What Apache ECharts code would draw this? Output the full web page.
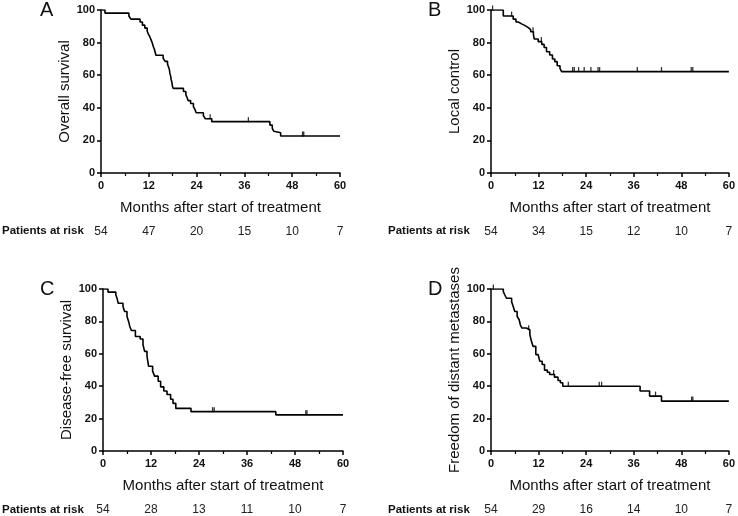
<!DOCTYPE html>
<html>
<head>
<meta charset="utf-8">
<script src="https://cdn.jsdelivr.net/npm/echarts@6/dist/echarts.min.js"></script>
<style>html,body{margin:0;padding:0;background:#fff}#c{width:738px;height:516px}</style>
</head>
<body>
<div id="c"></div>
<script>
const monthTicks = [0, 12, 24, 36, 48, 60];
const panelLetters = ['A', 'B', 'C', 'D'];
const yTitles = ['Overall survival', 'Local control', 'Disease-free survival', 'Freedom of distant metastases'];
const xTitle = 'Months after start of treatment';
const riskLabel = 'Patients at risk';

const riskA = [54, 47, 20, 15, 10, 7];
const riskB = [54, 34, 15, 12, 10, 7];
const riskC = [54, 28, 13, 11, 10, 7];
const riskD = [54, 29, 16, 14, 10, 7];

const curveA = [[0,100],[1,98.1],[7,96.3],[7.5,94.4],[9.8,92.6],[10.4,90.7],[11,88.9],[11.6,87.0],[11.9,85.2],[12.3,83.3],[12.6,81.5],[12.9,79.6],[13.1,77.8],[13.4,75.9],[13.6,74.1],[13.8,72.2],[15.6,70.4],[16.1,68.5],[16.7,66.7],[17.0,64.8],[17.2,63.0],[17.3,61.1],[17.5,59.3],[17.6,57.4],[17.8,55.6],[17.9,53.7],[18.1,51.9],[20.7,50.0],[21.3,48.1],[21.6,46.3],[21.9,44.4],[22.5,42.6],[23.2,40.7],[23.6,38.9],[23.9,37.0],[25.7,35.2],[26.2,33.3],[27.8,31.5],[42.4,29.4],[43.0,27.4],[43.4,25.6],[43.7,24.7],[45.1,22.7],[60,22.7]];
const censorA = [27.4, 37.0, 50.6, 50.9];

const curveB = [[0,100],[3.1,96.3],[5.6,94.4],[6.3,92.6],[6.9,91.5],[7.7,90.4],[8.6,89.2],[9.4,88.0],[10.0,86.7],[10.7,85.0],[10.9,82.2],[11.9,80.6],[12.8,78.9],[13.4,77.0],[14.0,74.4],[14.8,72.4],[15.5,69.9],[16.1,68.3],[16.7,65.8],[17.4,64.2],[17.8,62.2],[60,62.2]];
const censorB = [0.4, 5.2, 10.6, 12.7, 20.6, 21.0, 22.1, 23.5, 25.2, 27.0, 27.4, 36.9, 43.0, 50.5, 50.9];

const curveC = [[0,100],[1.25,98.1],[3.2,96.3],[3.5,94.4],[3.8,91.2],[5.0,89.2],[5.4,86.1],[6.0,83.0],[6.4,80.0],[6.7,76.9],[7.1,74.4],[8.1,70.7],[9.3,69.1],[10.0,65.6],[10.4,61.5],[11.0,58.5],[11.4,52.3],[12.4,49.3],[12.9,46.2],[13.8,43.1],[14.4,39.6],[15.2,37.0],[16.0,34.9],[16.9,31.9],[17.5,29.4],[18.2,26.3],[22.0,24.3],[43.2,22.3],[60,22.3]];
const censorC = [27.4, 27.8, 50.7, 51.0];

const curveD = [[0,100],[3.1,98.4],[3.5,96.3],[3.9,94.3],[5.2,92.2],[5.6,89.2],[6.0,86.1],[6.6,83.0],[7.1,81.0],[7.4,77.9],[7.8,75.9],[8.9,74.8],[9.8,71.8],[10.2,67.7],[10.6,64.6],[11.3,59.5],[11.9,58.5],[12.3,55.4],[12.9,53.4],[13.5,49.9],[14.2,48.6],[14.8,47.2],[16.0,45.6],[16.9,43.5],[17.5,42.1],[18.1,40.0],[37.6,37.0],[40.0,33.9],[43.0,30.8],[60,30.8]];
const censorD = [0.6, 9.5, 15.8, 19.5, 27.3, 27.9, 41.5, 50.6, 50.9];

const curves = [curveA, curveB, curveC, curveD];
const censors = [censorA, censorB, censorC, censorD];
const risks = [riskA, riskB, riskC, riskD];

const FONT = 'Liberation Sans, Arial, sans-serif';
const grids = [
  {left: 101, top: 10, width: 239, height: 163},
  {left: 491, top: 10, width: 238, height: 163},
  {left: 103, top: 289, width: 240, height: 163},
  {left: 491, top: 289, width: 240, height: 163}
];

function valueAt(curve, t) {
  let v = curve[0][1];
  for (const p of curve) { if (p[0] <= t) v = p[1]; else break; }
  return v;
}

const xAxes = [], yAxes = [], series = [], graphics = [];
grids.forEach((g, i) => {
  xAxes.push({
    gridIndex: i, type: 'value', min: 0, max: 60, interval: 12,
    name: xTitle, nameLocation: 'middle', nameGap: 27,
    nameTextStyle: {fontFamily: FONT, fontSize: 15, color: '#111'},
    axisLine: {show: true, lineStyle: {color: '#000', width: 1.5}},
    axisTick: {show: true, length: 4, lineStyle: {color: '#000', width: 1.5}},
    minorTick: {show: true, splitNumber: 2, length: 3, lineStyle: {color: '#000', width: 1.2}},
    axisLabel: {fontFamily: FONT, fontSize: 11, fontWeight: 'bold', color: '#111', margin: 7,
      formatter: v => monthTicks.includes(v) ? String(v) : ''},
    splitLine: {show: false}
  });
  const risk = risks[i];
  xAxes.push({
    gridIndex: i, type: 'value', min: 0, max: 60, interval: 12, position: 'bottom', offset: 45,
    axisLine: {show: false}, axisTick: {show: false}, splitLine: {show: false},
    axisLabel: {fontFamily: FONT, fontSize: 12, color: '#222', margin: 8,
      formatter: v => String(risk[monthTicks.indexOf(v)])}
  });
  yAxes.push({
    gridIndex: i, type: 'value', min: 0, max: 100, interval: 20,
    name: yTitles[i], nameLocation: 'middle', nameGap: 28, nameRotate: 90,
    nameTextStyle: {fontFamily: FONT, fontSize: 15, color: '#111'},
    axisLine: {show: true, lineStyle: {color: '#000', width: 1.5}},
    axisTick: {show: true, length: 4, lineStyle: {color: '#000', width: 1.5}},
    axisLabel: {fontFamily: FONT, fontSize: 11, fontWeight: 'bold', color: '#111', margin: 6},
    splitLine: {show: false}
  });
  series.push({
    type: 'line', xAxisIndex: i * 2, yAxisIndex: i, data: curves[i], step: 'end',
    showSymbol: false, symbol: 'none', lineStyle: {color: '#000', width: 1.6}, animation: false, silent: true
  });
  series.push({
    type: 'scatter', xAxisIndex: i * 2, yAxisIndex: i,
    data: censors[i].map(t => [t, valueAt(curves[i], t)]),
    symbol: 'rect', symbolSize: [1.3, 5], symbolOffset: [0, -2],
    itemStyle: {color: '#000'}, animation: false, silent: true
  });
  graphics.push({
    type: 'text', left: i % 2 === 0 ? 40 : 428, top: i < 2 ? 0 : 279,
    style: {text: panelLetters[i], font: '20px ' + FONT, fill: '#111'}
  });
  graphics.push({
    type: 'text', left: i % 2 === 0 ? 2 : 388, top: g.top + g.height + 52,
    style: {text: riskLabel, font: 'bold 11.5px ' + FONT, fill: '#111'}
  });
});

const chart = echarts.init(document.getElementById('c'), null, {renderer: 'canvas'});
chart.setOption({
  animation: false,
  backgroundColor: '#fff',
  grid: grids,
  xAxis: xAxes,
  yAxis: yAxes,
  series: series,
  graphic: graphics
});
</script>
</body>
</html>
